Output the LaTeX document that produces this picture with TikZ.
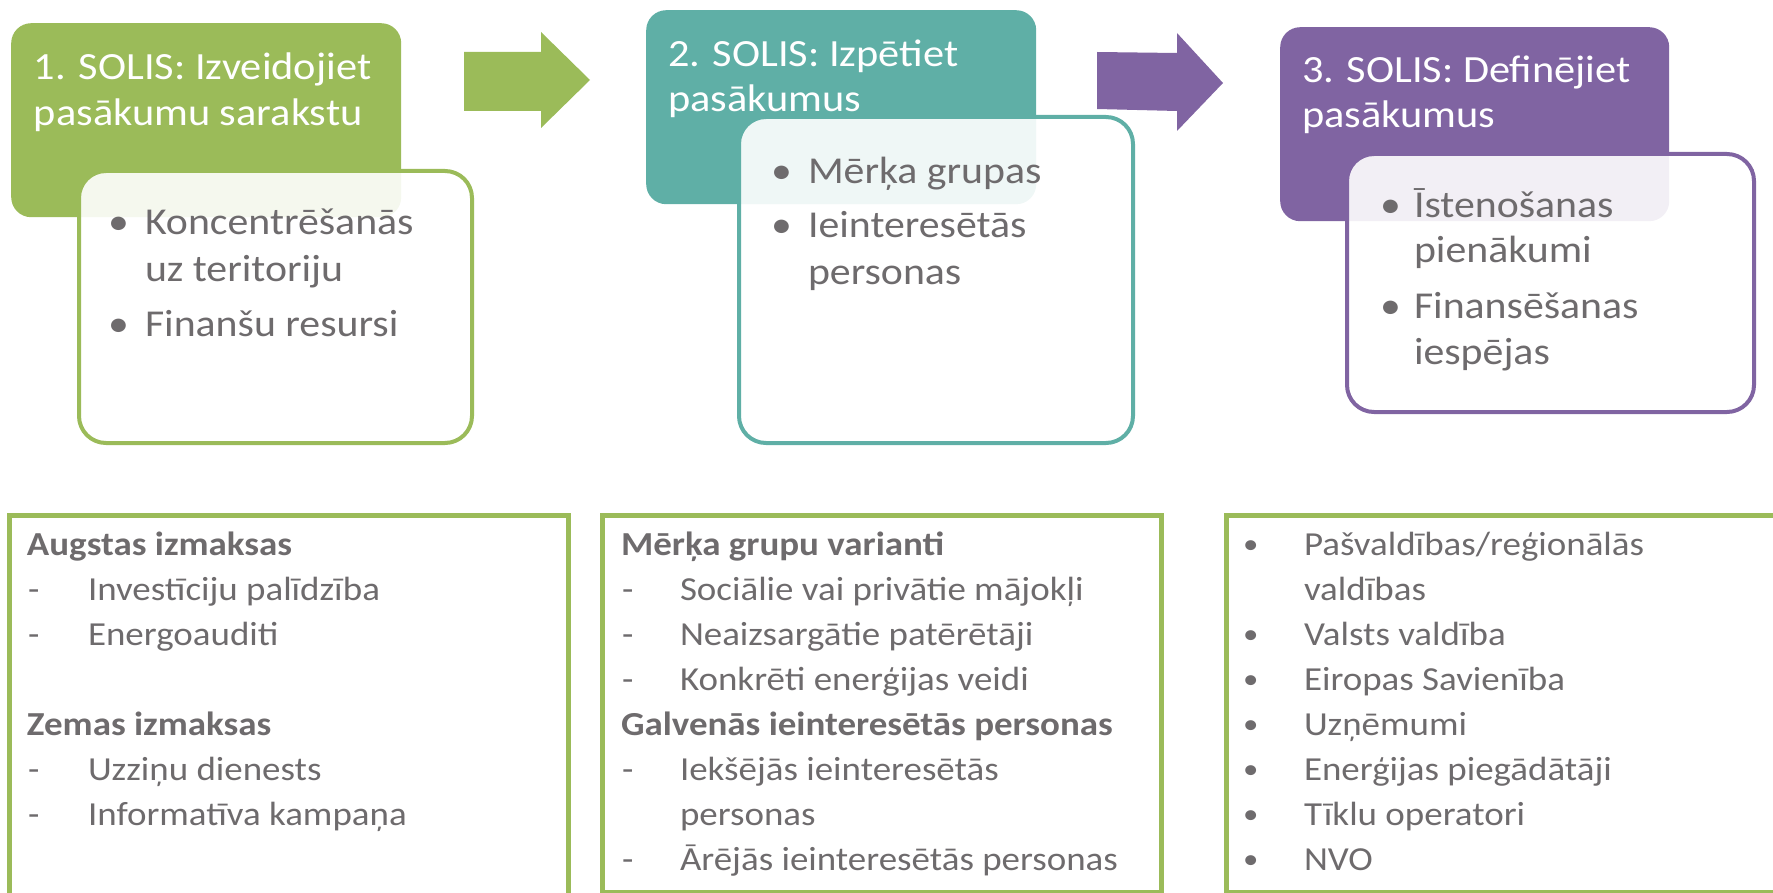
\documentclass[tikz,border=0pt]{standalone}
\usepackage{fontspec}
\setmainfont{Carlito}[FakeStretch=1.1]
\definecolor{cgreen}{HTML}{9BBB59}
\definecolor{cteal}{HTML}{5FAFA6}
\definecolor{cpurple}{HTML}{8064A2}
\definecolor{ctext}{HTML}{6E6B6D}
\begin{document}
\begin{tikzpicture}[x=1pt,y=-1pt,
  txt/.style={inner sep=0pt, outer sep=0pt, anchor=base west},
  ttl/.style={txt, text=white, font=\fontsize{38.5}{46}\selectfont},
  lst/.style={txt, text=ctext, font=\fontsize{38}{46}\selectfont},
  btm/.style={txt, text=ctext, font=\fontsize{33.6}{40}\selectfont},
  btmb/.style={btm, font=\fontsize{33.6}{40}\selectfont\bfseries},
  bdot/.style={btm, font=\fontsize{28}{40}\selectfont},
  headbox/.style={draw=none, rounded corners=20pt, anchor=north west, minimum width=390pt, minimum height=194pt, inner sep=0pt},
  listbox/.style={fill=white, fill opacity=0.9, line width=4pt, rounded corners=27pt, anchor=north west, inner sep=0pt},
  infobox/.style={draw=cgreen, line width=5pt, anchor=north west, inner sep=0pt, minimum width=559pt}]
\useasboundingbox (0,0) rectangle (1773,893);
\clip (0,0) rectangle (1773,893);

% ---- step 1 ----
\node[headbox, fill=cgreen] (h1) at (11,23) {};
\node[ttl] (t1a) at (34,80) {1. SOLIS: Izveidojiet};
\node[ttl] (t1b) at (34,126) {pasākumu sarakstu};
\node[listbox, draw=cgreen, minimum width=393pt, minimum height=272pt] (l1) at (77,169) {};
\node[lst] (b1a) at (108,235) {•};
\node[lst] (l1a) at (145,235) {Koncentrēšanās};
\node[lst] (l1b) at (145,282) {uz teritoriju};
\node[lst] (b1b) at (108,337) {•};
\node[lst] (l1c) at (145,337) {Finanšu resursi};

% arrow 1
\fill[cgreen] (464,52) -- (541,52) -- (541,32) -- (590,80) -- (541,128) -- (541,111) -- (464,111) -- cycle;

% ---- step 2 ----
\node[headbox, fill=cteal] (h2) at (646,10) {};
\node[ttl] (t2a) at (668,67) {2. SOLIS: Izpētiet};
\node[ttl] (t2b) at (668,112) {pasākumus};
\node[listbox, draw=cteal, minimum width=394pt, minimum height=326pt] (l2) at (737,115) {};
\node[lst] (b2a) at (771,184) {•};
\node[lst] (l2a) at (808,184) {Mērķa grupas};
\node[lst] (b2b) at (771,238) {•};
\node[lst] (l2b) at (808,238) {Ieinteresētās};
\node[lst] (l2c) at (808,285) {personas};

% arrow 2
\fill[cpurple] (1097,52) -- (1177,53) -- (1177,33) -- (1223,83) -- (1177,131) -- (1177,111) -- (1097,109) -- cycle;

% ---- step 3 ----
\node[headbox, fill=cpurple, minimum width=389pt] (h3) at (1280,27) {};
\node[ttl] (t3a) at (1302,83) {3. SOLIS: Definējiet};
\node[ttl] (t3b) at (1302,128) {pasākumus};
\node[listbox, draw=cpurple, minimum width=407pt, minimum height=258pt] (l3) at (1345,152) {};
\node[lst] (b3a) at (1380,218) {•};
\node[lst] (l3a) at (1414,218) {Īstenošanas};
\node[lst] (l3b) at (1414,263) {pienākumi};
\node[lst] (b3b) at (1380,319) {•};
\node[lst] (l3c) at (1414,319) {Finansēšanas};
\node[lst] (l3d) at (1414,365) {iespējas};

% ---- bottom boxes ----
\node[infobox, minimum height=420pt] (i1) at (7,513) {};
\node[infobox, minimum height=377pt] (i2) at (600,513) {};
\node[infobox, minimum width=600pt, minimum height=377pt] (i3) at (1224,513) {};

\node[btmb] (a1) at (27,555) {Augstas izmaksas};
\node[btm] (a2d) at (28,600) {-};
\node[btm] (a2) at (88,600) {Investīciju palīdzība};
\node[btm] (a3d) at (28,645) {-};
\node[btm] (a3) at (88,645) {Energoauditi};
\node[btmb] (a4) at (27,735) {Zemas izmaksas};
\node[btm] (a5d) at (28,780) {-};
\node[btm] (a5) at (88,780) {Uzziņu dienests};
\node[btm] (a6d) at (28,825) {-};
\node[btm] (a6) at (88,825) {Informatīva kampaņa};

\node[btmb] (m1) at (621,555) {Mērķa grupu varianti};
\node[btm] (m2d) at (622,600) {-};
\node[btm] (m2) at (680,600) {Sociālie vai privātie mājokļi};
\node[btm] (m3d) at (622,645) {-};
\node[btm] (m3) at (680,645) {Neaizsargātie patērētāji};
\node[btm] (m4d) at (622,690) {-};
\node[btm] (m4) at (680,690) {Konkrēti enerģijas veidi};
\node[btmb] (m5) at (621,735) {Galvenās ieinteresētās personas};
\node[btm] (m6d) at (622,780) {-};
\node[btm] (m6) at (680,780) {Iekšējās ieinteresētās};
\node[btm] (m7) at (680,825) {personas};
\node[btm] (m8d) at (622,870) {-};
\node[btm] (m8) at (680,870) {Ārējās ieinteresētās personas};

\node[bdot] (s1d) at (1243,553) {•};
\node[btm] (s1) at (1304,555) {Pašvaldības/reģionālās};
\node[btm] (s2) at (1304,600) {valdības};
\node[bdot] (s3d) at (1243,643) {•};
\node[btm] (s3) at (1304,645) {Valsts valdība};
\node[bdot] (s4d) at (1243,688) {•};
\node[btm] (s4) at (1304,690) {Eiropas Savienība};
\node[bdot] (s5d) at (1243,733) {•};
\node[btm] (s5) at (1304,735) {Uzņēmumi};
\node[bdot] (s6d) at (1243,778) {•};
\node[btm] (s6) at (1304,780) {Enerģijas piegādātāji};
\node[bdot] (s7d) at (1243,823) {•};
\node[btm] (s7) at (1304,825) {Tīklu operatori};
\node[bdot] (s8d) at (1243,868) {•};
\node[btm] (s8) at (1304,870) {NVO};
\end{tikzpicture}
\end{document}
